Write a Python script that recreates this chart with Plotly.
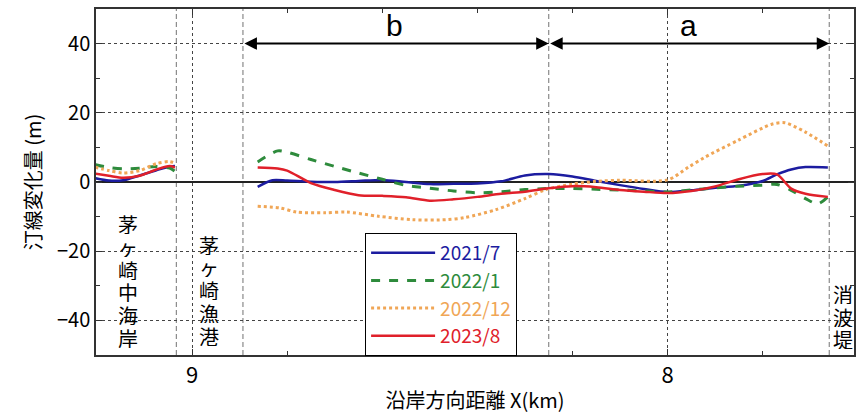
import plotly.graph_objects as go

# ---------------- data ----------------
x_left = [9.204, 9.175, 9.145, 9.110, 9.075, 9.047, 9.036]

blue_left = [1.1, 0.4, 0.5, 1.9, 3.4, 4.5, 4.6]
green_left = [5.0, 4.2, 3.8, 4.0, 4.5, 4.0, 3.1]
orange_left = [4.3, 3.3, 2.6, 3.3, 5.3, 5.9, 5.4]
red_left = [2.4, 1.8, 1.2, 1.8, 3.6, 4.6, 4.2]

blue_x = [8.862, 8.831, 8.80, 8.75, 8.70, 8.65, 8.60, 8.55, 8.50, 8.45, 8.40, 8.35,
          8.30, 8.25, 8.20, 8.15, 8.10, 8.05, 8.00, 7.95, 7.90, 7.85, 7.80, 7.77,
          7.74, 7.71, 7.663]
blue_y = [-1.4, 0.5, 0.4, 0.1, 0.0, 0.3, 0.6, 0.0, -0.6, -0.5, -0.4, 0.2,
          1.9, 2.3, 1.6, 0.3, -0.9, -2.0, -2.9, -2.4, -1.7, -1.1, 0.3, 2.2,
          3.6, 4.3, 4.2]

green_x = [8.862, 8.82, 8.80, 8.75, 8.70, 8.65, 8.60, 8.55, 8.50, 8.45, 8.40, 8.35,
           8.30, 8.25, 8.20, 8.15, 8.10, 8.05, 8.00, 7.95, 7.90, 7.85, 7.80, 7.77,
           7.74, 7.71, 7.684, 7.663]
green_y = [5.8, 9.0, 8.6, 6.5, 4.5, 2.6, 0.8, -1.0, -1.8, -2.6, -3.1, -2.8,
           -2.2, -1.9, -1.9, -2.1, -2.3, -2.6, -2.9, -2.3, -1.7, -1.2, -0.9, -0.7,
           -2.4, -4.8, -6.3, -4.3]

orange_x = [8.862, 8.815, 8.78, 8.72, 8.675, 8.608, 8.537, 8.466, 8.427, 8.361,
            8.30, 8.256, 8.20, 8.15, 8.10, 8.00, 7.956, 7.921, 7.851, 7.781,
            7.753, 7.711, 7.663]
orange_y = [-7.0, -7.5, -8.7, -8.9, -8.7, -9.9, -10.9, -10.9, -10.3, -8.0,
            -4.8, -2.2, -0.6, 0.2, 0.5, 0.6, 4.3, 7.2, 12.1, 16.7,
            17.1, 14.5, 10.4]

red_x = [8.862, 8.82, 8.80, 8.75, 8.70, 8.65, 8.60, 8.55, 8.50, 8.45, 8.40, 8.35,
         8.30, 8.25, 8.20, 8.15, 8.10, 8.05, 8.00, 7.95, 7.90, 7.85, 7.80, 7.77,
         7.74, 7.71, 7.663]
red_y = [4.2, 3.9, 3.3, -0.3, -2.3, -3.8, -4.0, -4.4, -5.4, -5.0, -4.3, -3.4,
         -2.8, -1.8, -1.2, -1.5, -2.3, -2.8, -3.2, -2.6, -1.3, 0.8, 2.3, 2.2,
         -1.9, -3.4, -4.3]

series_names = ["2021/7", "2022/1", "2022/12", "2023/8"]
section_labels = ["b", "a"]
place_labels = ["茅ヶ崎中海岸", "茅ヶ崎漁港", "消波堤"]
x_title = "沿岸方向距離 X(km)"
y_title = "汀線変化量 (m)"

# ---------------- figure ----------------
JP = "Noto Sans CJK JP"
colors = ["#1c1ca0", "#2e8b3c", "#f0a656", "#e0202a"]
dashes = ["solid", "dash", "dot", "solid"]
widths = [2.5, 3, 3, 2.5]

lefts = [blue_left, green_left, orange_left, red_left]
rights = [(blue_x, blue_y), (green_x, green_y), (orange_x, orange_y), (red_x, red_y)]

fig = go.Figure()
for i in range(4):
    xs = x_left + [None] + rights[i][0]
    ys = lefts[i] + [None] + rights[i][1]
    fig.add_trace(go.Scatter(
        x=xs, y=ys, mode="lines",
        line=dict(color=colors[i], width=widths[i], dash=dashes[i],
                  shape="spline", smoothing=0.8),
        connectgaps=False,
        name=f"<span style='color:{colors[i]}'>{series_names[i]}</span>",
    ))

# gray dashed section lines
for xv in [9.033, 8.893, 8.25, 7.66]:
    fig.add_shape(type="line", xref="x", yref="paper", x0=xv, x1=xv, y0=0, y1=1,
                  line=dict(color="#8a8a8a", width=1.2, dash="5px,3px"), layer="below")

# arrows
for (x0, x1) in [(8.893, 8.25), (8.25, 7.66)]:
    fig.add_annotation(x=x1, y=40, ax=x0, ay=40, xref="x", yref="y",
                       axref="x", ayref="y", text="", showarrow=True,
                       arrowhead=2, startarrowhead=2, arrowside="end+start",
                       arrowsize=1.25, arrowwidth=2, arrowcolor="black",
                       standoff=0, startstandoff=0)

for lbl, xv in zip(section_labels, [8.575, 7.955]):
    fig.add_annotation(x=xv, y=45.2, xref="x", yref="y", text=lbl, showarrow=False,
                       font=dict(family="Liberation Sans", size=30, color="black"))

# vertical place labels, one character per annotation
step = 6.6
for lbl, xv, ytop in zip(place_labels, [9.135, 8.965, 7.631], [-12.1, -18.1, -32.3]):
    for k, ch in enumerate(lbl):
        fig.add_annotation(x=xv, y=ytop - k * step, xref="x", yref="y", text=ch,
                           showarrow=False, height=20, borderpad=0,
                           font=dict(family=JP, size=20, color="black"))

axis_common = dict(
    showline=True, linecolor="#333333", linewidth=1.5, mirror="allticks",
    ticks="inside", ticklen=6, tickcolor="#333333",
    showgrid=True, gridcolor="#444444", gridwidth=1, griddash="3px,3px",
)

fig.update_xaxes(
    range=[9.202, 7.608], tickmode="linear", tick0=0, dtick=1,
    minor=dict(dtick=0.2, tick0=0, ticks="inside", ticklen=4, tickcolor="#333333", showgrid=False),
    zeroline=False,
    tickfont=dict(family=JP, size=22, color="black"),
    title=dict(text=x_title, font=dict(family=JP, size=20, color="black"), standoff=6),
    **axis_common,
)
fig.update_yaxes(
    range=[-50, 50], tickmode="linear", tick0=0, dtick=20,
    minor=dict(dtick=10, tick0=0, ticks="inside", ticklen=4, tickcolor="#333333", showgrid=False),
    zeroline=True, zerolinecolor="#222222", zerolinewidth=2,
    tickfont=dict(family=JP, size=20, color="black"),
    title=dict(text=y_title, font=dict(family=JP, size=20, color="black"), standoff=10),
    **axis_common,
)

fig.update_layout(
    width=863, height=416,
    margin=dict(l=96, r=7, t=9, b=61),
    paper_bgcolor="white", plot_bgcolor="white",
    showlegend=True,
    legend=dict(x=0.355, y=0.353, xanchor="left", yanchor="top",
                bgcolor="white", bordercolor="black", borderwidth=1,
                font=dict(family=JP, size=19), itemwidth=64,
                tracegroupgap=0),
)

fig.write_html("out.html")
